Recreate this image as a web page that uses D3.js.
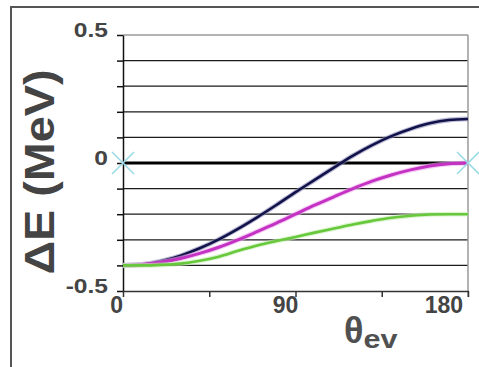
<!DOCTYPE html>
<html>
<head>
<meta charset="utf-8">
<script src="https://cdn.jsdelivr.net/npm/d3@7/dist/d3.min.js"></script>
<style>
  html, body { margin: 0; padding: 0; background: #fff; }
  svg { display: block; }
  text { font-family: "Liberation Sans", Arial, sans-serif; font-weight: bold; }
</style>
</head>
<body>
<svg id="chart" width="479" height="367"></svg>
<script>
// Angle grid (degrees) shared by all three curves
const angles = [0, 10, 20, 30, 40, 50, 60, 70, 80, 90, 100, 110, 120, 130, 140, 150, 160, 170, 180];

// Energy shift (MeV) for each curve
const navySeries = [-0.400, -0.396, -0.383, -0.362, -0.333, -0.298, -0.257, -0.212, -0.164, -0.114,
                    -0.066, -0.018, 0.029, 0.070, 0.105, 0.133, 0.155, 0.168, 0.172];
const magentaSeries = [-0.400, -0.397, -0.388, -0.373, -0.353, -0.329, -0.300, -0.268, -0.235, -0.200,
                       -0.165, -0.132, -0.100, -0.071, -0.047, -0.027, -0.012, -0.003, 0.000];
const greenSeries = [-0.400, -0.400, -0.398, -0.393, -0.382, -0.366, -0.343, -0.322, -0.305, -0.289,
                     -0.272, -0.256, -0.240, -0.226, -0.214, -0.206, -0.201, -0.200, -0.200];

// Reference markers on the zero line
const markerAngles = [0, 180];
const markerValues = [0, 0];

// Axis ticks and labels
const yTickValues = [-0.5, -0.4, -0.3, -0.2, -0.1, 0, 0.1, 0.2, 0.3, 0.4, 0.5];
const yGridValues = [-0.4, -0.3, -0.2, -0.1, 0.1, 0.2, 0.3, 0.4];
const yLabelValues = [0.5, 0, -0.5];
const yLabelTexts = ["0.5", "0", "-0.5"];
const xTickValues = [0, 45, 90, 135, 180];
const xLabelValues = [0, 90, 180];
const xLabelTexts = ["0", "90", "180"];

const svg = d3.select("#chart");

const x = d3.scaleLinear().domain([0, 180]).range([123, 468]);
const y = d3.scaleLinear().domain([-0.5, 0.5]).range([291, 35]);

// outer frame (runs past the bottom/right edges)
svg.append("rect")
  .attr("x", 11).attr("y", 7)
  .attr("width", 500).attr("height", 400)
  .attr("fill", "#fff")
  .attr("stroke", "#555").attr("stroke-width", 2);

// horizontal gridlines
svg.append("g").selectAll("line").data(yGridValues).join("line")
  .attr("x1", x(0)).attr("x2", x(180))
  .attr("y1", d => y(d)).attr("y2", d => y(d))
  .attr("stroke", "#1a1a1a").attr("stroke-width", 1.3);

// plot border: top and right in grey
svg.append("line")
  .attr("x1", x(0)).attr("x2", x(180))
  .attr("y1", y(0.5)).attr("y2", y(0.5))
  .attr("stroke", "#9a9a9a").attr("stroke-width", 1.5);
svg.append("line")
  .attr("x1", x(180)).attr("x2", x(180))
  .attr("y1", y(0.5)).attr("y2", y(-0.5) + 6)
  .attr("stroke", "#9a9a9a").attr("stroke-width", 1.5);

// zero line
svg.append("line")
  .attr("x1", x(0)).attr("x2", x(180))
  .attr("y1", y(0)).attr("y2", y(0))
  .attr("stroke", "#000").attr("stroke-width", 3.2);

// axes
const yAxis = svg.append("g")
  .attr("transform", `translate(${x(0)},0)`)
  .call(d3.axisLeft(y).tickValues(yTickValues).tickSize(6).tickSizeOuter(0).tickFormat(""));
yAxis.selectAll("path, line").attr("stroke", "#111").attr("stroke-width", 1.5);

const xAxis = svg.append("g")
  .attr("transform", `translate(0,${y(-0.5)})`)
  .call(d3.axisBottom(x).tickValues(xTickValues).tickSize(6).tickSizeOuter(0).tickFormat(""));
xAxis.selectAll("path, line").attr("stroke", "#333").attr("stroke-width", 1.5);

// curves
const line = d3.line()
  .x((d, i) => x(angles[i]))
  .y(d => y(d))
  .curve(d3.curveMonotoneX);

const curves = [
  { values: navySeries, color: "#12124a", width: 2.6, halo: "#8c8cb8" },
  { values: magentaSeries, color: "#c432c4", width: 3, halo: "#eeaaee" },
  { values: greenSeries, color: "#66c83a", width: 2.6, halo: "#c4efb0" }
];
const gCurves = svg.append("g");
curves.forEach(c => {
  gCurves.append("path").attr("d", line(c.values))
    .attr("fill", "none").attr("stroke", c.halo)
    .attr("stroke-width", c.width + 2.2).attr("stroke-opacity", 0.6);
  gCurves.append("path").attr("d", line(c.values))
    .attr("fill", "none").attr("stroke", c.color)
    .attr("stroke-width", c.width).attr("stroke-linejoin", "round");
});

// cyan cross markers
svg.append("g").selectAll("path").data(markerAngles).join("path")
  .attr("d", (d, i) => {
    const cx = x(d), cy = y(markerValues[i]), r = 11;
    return `M${cx - r},${cy - r}L${cx + r},${cy + r}M${cx - r},${cy + r}L${cx + r},${cy - r}`;
  })
  .attr("stroke", "#9bdbe6").attr("stroke-width", 1.6).attr("fill", "none");

// y tick labels
svg.append("g").selectAll("text").data(yLabelValues).join("text")
  .attr("transform", d => `translate(${x(0) - 15},${y(d) + 2}) scale(1.2,1)`)
  .attr("text-anchor", "end")
  .attr("font-size", 20.5)
  .attr("fill", "#444")
  .text((d, i) => yLabelTexts[i]);

// x tick labels
svg.append("g").selectAll("text").data(xLabelValues).join("text")
  .attr("x", d => x(d))
  .attr("y", y(-0.5) + 22)
  .attr("text-anchor", (d, i) => i === 0 ? "end" : (i === xLabelValues.length - 1 ? "end" : "middle"))
  .attr("dx", (d, i) => i === 0 ? 0 : (i === xLabelValues.length - 1 ? -5 : -10))
  .attr("font-size", 23)
  .attr("fill", "#444")
  .text((d, i) => xLabelTexts[i]);

// y axis title
svg.append("text")
  .attr("transform", "translate(54,172) rotate(-90)")
  .attr("text-anchor", "middle")
  .attr("font-size", 42)
  .attr("textLength", 205)
  .attr("lengthAdjust", "spacingAndGlyphs")
  .attr("fill", "#444")
  .text("ΔE (MeV)");

// x axis title
const xt = svg.append("text")
  .attr("x", 344).attr("y", 343)
  .attr("fill", "#505050");
xt.append("tspan").attr("font-size", 36).text("θ");
xt.append("tspan").attr("font-size", 25).attr("dy", 5)
  .attr("textLength", 34).attr("lengthAdjust", "spacingAndGlyphs").text("ev");
</script>
</body>
</html>
